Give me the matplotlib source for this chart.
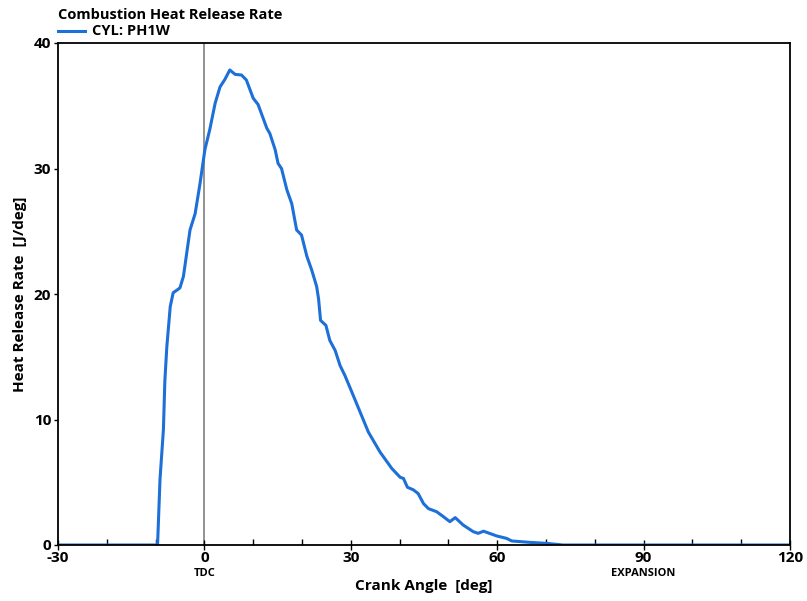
import matplotlib
matplotlib.use("Agg")
import matplotlib.pyplot as plt
from matplotlib.lines import Line2D
from matplotlib.ticker import MultipleLocator

plt.rcParams['font.family'] = ['Open Sans', 'DejaVu Sans']
plt.rcParams['font.weight'] = 'bold'
plt.rcParams['axes.unicode_minus'] = False

# Heat release rate trace
crank_angle = [-30, -9.6, -9.1, -8.4, -8.1, -7.7, -7.0, -6.4, -5.3, -5.0, -4.3,
               -2.95, -1.9, -0.9, 0.1, 1.1, 2.2, 3.2, 4.2, 5.2, 6.3, 7.6, 8.6,
               10.0, 11.0, 12.8, 13.4, 14.5, 15.1, 15.8, 16.9, 17.9, 18.9, 19.9,
               21.0, 22.0, 23.0, 23.4, 23.8, 24.9, 25.7, 26.8, 27.8, 28.8, 30.2,
               31.9, 33.6, 36.0, 38.4, 40.1, 40.8, 41.6, 42.8, 43.8, 44.9, 45.9,
               47.6, 49.0, 50.3, 51.4, 53.0, 55.1, 56.1, 57.2, 59.9, 61.9, 63.0,
               66.7, 70.1, 73.5, 120]
heat_release = [0, 0, 5.2, 9.2, 13.1, 15.8, 19.0, 20.1, 20.4, 20.5, 21.4,
                25.1, 26.4, 28.8, 31.5, 33.1, 35.2, 36.5, 37.1, 37.85, 37.5, 37.45, 37.05,
                35.6, 35.1, 33.2, 32.8, 31.5, 30.4, 30.0, 28.3, 27.2, 25.1, 24.7,
                23.0, 21.9, 20.6, 19.6, 17.9, 17.5, 16.3, 15.5, 14.3, 13.5, 12.2,
                10.6, 9.0, 7.4, 6.1, 5.4, 5.3, 4.6, 4.4, 4.1, 3.3, 2.9,
                2.65, 2.25, 1.86, 2.18, 1.6, 1.06, 0.93, 1.1, 0.72, 0.53, 0.32,
                0.21, 0.13, 0, 0]

x_ticks = [-30, 0, 30, 60, 90, 120]
y_ticks = [0, 10, 20, 30, 40]
markers = {0: "TDC", 90: "EXPANSION"}

line_color = "#1c70d8"

fig = plt.figure(figsize=(8.07, 6.01), dpi=100)
ax = fig.add_axes([58 / 807, 56 / 601, 732 / 807, 502 / 601])

ax.axvline(0, color="#808080", lw=1.2, zorder=1)
ax.plot(crank_angle, heat_release, color=line_color, lw=2.2, zorder=3)

ax.set_xlim(-30, 120)
ax.set_ylim(0, 40)
ax.set_xticks(x_ticks)
ax.set_yticks(y_ticks)
ax.xaxis.set_minor_locator(MultipleLocator(10))
ax.tick_params(axis="x", which="major", direction="inout", length=7, width=1,
               labelsize=11, pad=1)
ax.tick_params(axis="x", which="minor", direction="in", length=4, width=1)
ax.tick_params(axis="y", which="major", direction="out", length=3, width=1,
               labelsize=11, pad=2)
for lab in ax.get_xticklabels() + ax.get_yticklabels():
    lab.set_fontweight("bold")
for sp in ax.spines.values():
    sp.set_linewidth(1.3)
    sp.set_zorder(4)

for xv, name in markers.items():
    ax.text(xv, -0.046, name, transform=ax.get_xaxis_transform(), ha="center",
            va="top", fontsize=8, fontweight="bold")

ax.set_xlabel("Crank Angle  [deg]", fontsize=11, fontweight="bold", labelpad=10)
ax.set_ylabel("Heat Release Rate  [J/deg]", fontsize=11, fontweight="bold", labelpad=5)

fig.text(58 / 807, 1 - 15 / 601, "Combustion Heat Release Rate", ha="left",
         va="center", fontsize=10.5, fontweight="bold")
fig.add_artist(Line2D([58 / 807, 85 / 807], [1 - 31 / 601] * 2, color=line_color,
                      lw=2.2, transform=fig.transFigure))
fig.text(92 / 807, 1 - 31 / 601, "CYL: PH1W", ha="left", va="center",
         fontsize=10.5, fontweight="bold")

fig.savefig("out.png", dpi=100)
